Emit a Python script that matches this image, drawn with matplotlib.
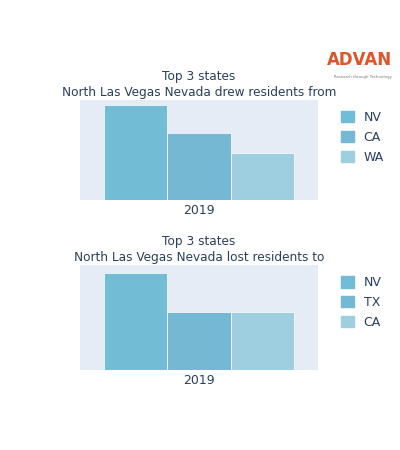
import matplotlib.pyplot as plt
from matplotlib.patches import Patch

from_states = ['NV', 'CA', 'WA']
from_values = [0.95, 0.67, 0.47]
to_states = ['NV', 'TX', 'CA']
to_values = [0.92, 0.55, 0.55]
year = '2019'
colors = ['#72bcd6', '#74b8d4', '#9dcfe1']
text_c = '#2a3f5f'

fig = plt.figure(figsize=(4, 4.5), dpi=100)

def panel(rect, states, values, title):
    ax = fig.add_axes(rect)
    ax.set_facecolor('#e5ecf6')
    w = 0.8 / 3
    for i, (s, v) in enumerate(zip(states, values)):
        ax.bar(-0.4 + w * (i + 0.5), v, width=w, color=colors[i], edgecolor='white', linewidth=0.5)
    ax.set_xlim(-0.5, 0.5)
    ax.set_ylim(0, 1)
    ax.set_xticks([0])
    ax.set_xticklabels([year], color=text_c, fontsize=9)
    ax.tick_params(length=0, pad=3)
    ax.set_yticks([])
    for sp in ax.spines.values():
        sp.set_visible(False)
    ax.set_title(title, color=text_c, fontsize=8.7, pad=3, linespacing=1.3)
    handles = [Patch(color=colors[i], label=s) for i, s in enumerate(states)]
    ax.legend(handles=handles, loc='upper left', bbox_to_anchor=(1.05, 1.0), frameon=False,
              labelcolor=text_c, fontsize=9, handlelength=1.0, handleheight=1.0, labelspacing=0.55)
    return ax

panel([0.2, 0.556, 0.595, 0.222], from_states, from_values,
      'Top 3 states\nNorth Las Vegas Nevada drew residents from')
panel([0.2, 0.178, 0.595, 0.233], to_states, to_values,
      'Top 3 states\nNorth Las Vegas Nevada lost residents to')

fig.text(0.98, 0.855, 'ADVAN', color='#e0542a', fontsize=12, fontweight='bold', ha='right', va='baseline')
fig.text(0.98, 0.833, 'Research through Technology', color='#777777', fontsize=2.8, ha='right', va='top')

fig.savefig('out.png', dpi=100)
